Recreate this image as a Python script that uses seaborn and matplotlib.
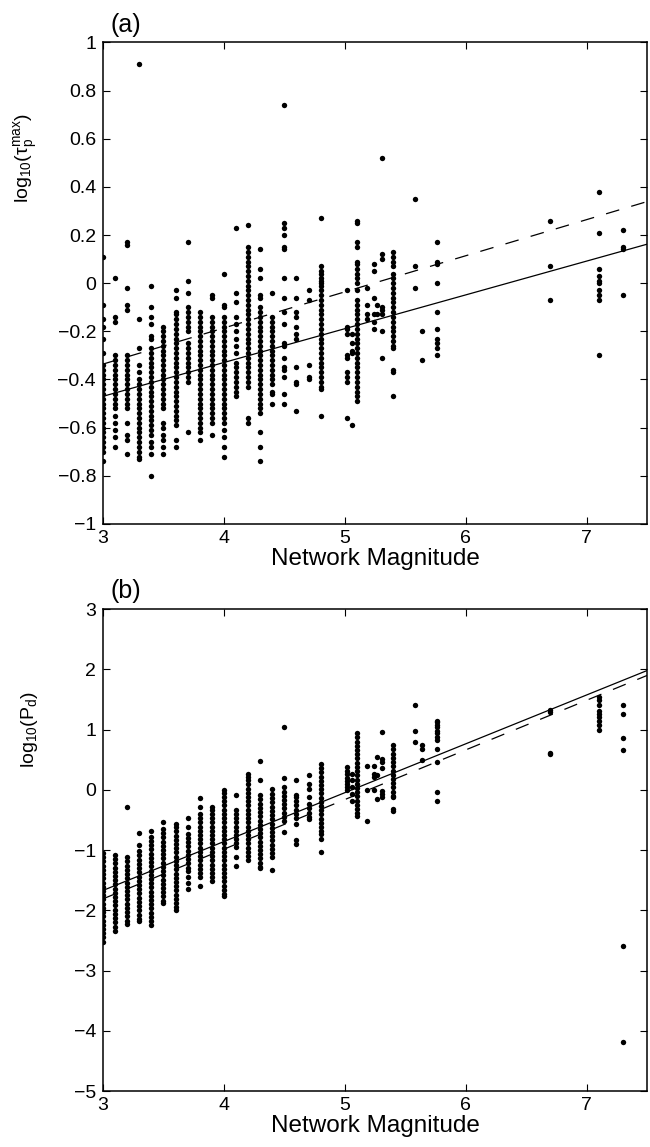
import matplotlib
matplotlib.use("Agg")
import matplotlib.pyplot as plt
import seaborn as sns
import pandas as pd

# ---------------- data ----------------
MAG_A = [3.0, 3.1, 3.2, 3.3, 3.4, 3.5, 3.6, 3.7, 3.8, 3.9, 4.0, 4.1, 4.2, 4.3, 4.4,
         4.5, 4.6, 4.7, 4.8, 5.02, 5.06, 5.1, 5.18, 5.24, 5.27, 5.31, 5.4, 5.58,
         5.64, 5.76, 6.7, 7.1, 7.3]
TAU_A = [
    [0.11, -0.09, -0.15, -0.18, -0.23, -0.29, -0.34, -0.36, -0.38, -0.40, -0.42, -0.44, -0.46, -0.48, -0.50, -0.52, -0.54, -0.56, -0.58, -0.60, -0.62, -0.64, -0.66, -0.68, -0.70, -0.74],
    [0.02, -0.14, -0.16, -0.30, -0.32, -0.34, -0.36, -0.38, -0.40, -0.42, -0.44, -0.46, -0.48, -0.50, -0.52, -0.55, -0.58, -0.61, -0.64, -0.68],
    [0.17, 0.16, -0.02, -0.09, -0.11, -0.30, -0.32, -0.34, -0.36, -0.38, -0.40, -0.42, -0.44, -0.46, -0.48, -0.50, -0.52, -0.58, -0.63, -0.65, -0.71],
    [0.91, -0.15, -0.27, -0.34, -0.37, -0.40, -0.42, -0.44, -0.46, -0.48, -0.50, -0.52, -0.54, -0.56, -0.58, -0.60, -0.62, -0.64, -0.66, -0.68, -0.70, -0.72, -0.73],
    [-0.01, -0.10, -0.14, -0.17, -0.22, -0.23, -0.27, -0.29, -0.31, -0.33, -0.35, -0.37, -0.39, -0.41, -0.43, -0.45, -0.47, -0.49, -0.51, -0.53, -0.55, -0.57, -0.59, -0.61, -0.63, -0.66, -0.68, -0.71, -0.80],
    [-0.18, -0.20, -0.22, -0.24, -0.26, -0.28, -0.30, -0.32, -0.34, -0.36, -0.38, -0.40, -0.42, -0.44, -0.46, -0.48, -0.50, -0.52, -0.58, -0.60, -0.63, -0.65, -0.68, -0.71],
    [-0.03, -0.06, -0.12, -0.13, -0.15, -0.17, -0.19, -0.21, -0.23, -0.25, -0.27, -0.29, -0.31, -0.33, -0.35, -0.37, -0.39, -0.41, -0.43, -0.45, -0.47, -0.49, -0.51, -0.53, -0.55, -0.57, -0.59, -0.65, -0.68],
    [0.17, 0.01, -0.04, -0.10, -0.12, -0.14, -0.16, -0.18, -0.20, -0.25, -0.27, -0.29, -0.31, -0.33, -0.35, -0.37, -0.39, -0.41, -0.62],
    [-0.12, -0.14, -0.16, -0.18, -0.20, -0.22, -0.24, -0.26, -0.28, -0.30, -0.32, -0.34, -0.36, -0.38, -0.40, -0.42, -0.44, -0.46, -0.48, -0.50, -0.52, -0.54, -0.56, -0.58, -0.60, -0.62, -0.65],
    [-0.05, -0.06, -0.14, -0.16, -0.18, -0.20, -0.22, -0.24, -0.26, -0.28, -0.30, -0.32, -0.34, -0.36, -0.38, -0.40, -0.42, -0.44, -0.46, -0.48, -0.50, -0.52, -0.54, -0.56, -0.58, -0.63],
    [0.04, -0.09, -0.10, -0.14, -0.16, -0.18, -0.20, -0.22, -0.24, -0.26, -0.28, -0.30, -0.32, -0.34, -0.36, -0.38, -0.40, -0.42, -0.44, -0.46, -0.48, -0.50, -0.52, -0.54, -0.56, -0.58, -0.61, -0.64, -0.68, -0.72],
    [0.23, -0.04, -0.08, -0.14, -0.17, -0.20, -0.23, -0.26, -0.29, -0.33, -0.35, -0.37, -0.39, -0.41, -0.43, -0.45, -0.47],
    [0.24, 0.15, 0.13, 0.11, 0.09, 0.07, 0.05, 0.03, 0.01, -0.01, -0.03, -0.05, -0.07, -0.09, -0.11, -0.13, -0.15, -0.17, -0.19, -0.21, -0.23, -0.25, -0.27, -0.29, -0.31, -0.33, -0.35, -0.37, -0.39, -0.41, -0.43, -0.56, -0.58],
    [0.14, 0.06, 0.02, -0.05, -0.06, -0.10, -0.12, -0.14, -0.16, -0.18, -0.20, -0.22, -0.24, -0.26, -0.28, -0.30, -0.32, -0.34, -0.36, -0.38, -0.40, -0.42, -0.44, -0.46, -0.48, -0.50, -0.52, -0.54, -0.62, -0.68, -0.74],
    [-0.04, -0.14, -0.16, -0.18, -0.20, -0.22, -0.24, -0.26, -0.28, -0.30, -0.32, -0.34, -0.36, -0.38, -0.40, -0.42, -0.45, -0.46, -0.50],
    [0.74, 0.25, 0.23, 0.20, 0.15, 0.14, 0.02, -0.06, -0.12, -0.17, -0.25, -0.26, -0.31, -0.35, -0.36, -0.39, -0.46, -0.50],
    [0.02, -0.06, -0.12, -0.14, -0.18, -0.21, -0.23, -0.35, -0.41, -0.42, -0.53],
    [-0.03, -0.07, -0.34, -0.39, -0.40],
    [0.27, 0.07, 0.05, 0.04, 0.02, 0.01, 0.00, -0.01, -0.03, -0.05, -0.07, -0.09, -0.11, -0.13, -0.15, -0.17, -0.19, -0.21, -0.23, -0.25, -0.27, -0.29, -0.31, -0.33, -0.35, -0.37, -0.39, -0.41, -0.43, -0.44, -0.55],
    [-0.03, -0.18, -0.19, -0.21, -0.30, -0.31, -0.37, -0.39, -0.41, -0.56],
    [-0.21, -0.25, -0.28, -0.29, -0.59],
    [0.26, 0.25, 0.17, 0.15, 0.09, 0.08, 0.06, 0.04, 0.02, 0.00, -0.03, -0.07, -0.09, -0.11, -0.13, -0.15, -0.17, -0.19, -0.21, -0.23, -0.25, -0.27, -0.29, -0.31, -0.33, -0.35, -0.37, -0.39, -0.41, -0.43, -0.45, -0.47, -0.49],
    [-0.02, -0.09, -0.13, -0.15],
    [0.08, 0.05, -0.06, -0.13, -0.16, -0.19],
    [-0.09, -0.13],
    [0.52, 0.12, 0.10, -0.10, -0.11, -0.13, -0.20, -0.31],
    [0.13, 0.11, 0.09, 0.07, 0.04, 0.02, 0.00, -0.02, -0.04, -0.06, -0.08, -0.10, -0.12, -0.14, -0.16, -0.18, -0.20, -0.22, -0.24, -0.26, -0.27, -0.36, -0.37, -0.47],
    [0.35, 0.07, -0.02],
    [-0.20, -0.32],
    [0.17, 0.09, 0.08, 0.00, -0.12, -0.19, -0.23, -0.25, -0.27, -0.30],
    [0.26, 0.07, -0.07],
    [0.38, 0.21, 0.06, 0.03, 0.01, 0.00, -0.03, -0.05, -0.07, -0.30],
    [0.22, 0.15, 0.14, -0.05],
]

MAG_B = MAG_A
PD_B = [
    [-1.05, -1.12, -1.19, -1.26, -1.33, -1.40, -1.47, -1.54, -1.61, -1.68, -1.75, -1.82, -1.89, -1.96, -2.03, -2.10, -2.17, -2.24, -2.31, -2.38, -2.45, -2.52],
    [-1.08, -1.15, -1.22, -1.29, -1.36, -1.43, -1.50, -1.57, -1.64, -1.71, -1.78, -1.85, -1.92, -1.99, -2.06, -2.13, -2.20, -2.27, -2.34],
    [-0.28, -1.12, -1.19, -1.26, -1.33, -1.40, -1.47, -1.54, -1.61, -1.68, -1.75, -1.82, -1.89, -1.96, -2.03, -2.10, -2.17, -2.22],
    [-0.72, -0.92, -1.02, -1.09, -1.16, -1.23, -1.30, -1.37, -1.44, -1.51, -1.58, -1.65, -1.72, -1.79, -1.86, -1.93, -2.00, -2.07, -2.14, -2.18],
    [-0.68, -0.78, -0.85, -0.92, -0.99, -1.06, -1.13, -1.20, -1.27, -1.34, -1.41, -1.48, -1.55, -1.62, -1.69, -1.76, -1.83, -1.90, -1.97, -2.04, -2.11, -2.18, -2.25],
    [-0.54, -0.65, -0.72, -0.79, -0.86, -0.93, -1.00, -1.07, -1.14, -1.21, -1.28, -1.35, -1.42, -1.49, -1.56, -1.63, -1.70, -1.77, -1.84, -1.88],
    [-0.56, -0.62, -0.69, -0.76, -0.83, -0.90, -0.97, -1.04, -1.11, -1.18, -1.25, -1.32, -1.39, -1.46, -1.53, -1.60, -1.67, -1.74, -1.81, -1.88, -1.95, -1.99],
    [-0.47, -0.62, -0.73, -0.80, -0.87, -0.94, -1.01, -1.08, -1.15, -1.22, -1.29, -1.34, -1.45, -1.55, -1.64],
    [-0.13, -0.29, -0.40, -0.47, -0.54, -0.61, -0.68, -0.75, -0.82, -0.89, -0.96, -1.03, -1.10, -1.17, -1.24, -1.31, -1.38, -1.45, -1.59],
    [-0.29, -0.34, -0.40, -0.47, -0.54, -0.61, -0.68, -0.75, -0.82, -0.89, -0.96, -1.03, -1.10, -1.17, -1.24, -1.31, -1.38, -1.45, -1.51],
    [0.00, -0.05, -0.12, -0.19, -0.26, -0.33, -0.40, -0.47, -0.54, -0.61, -0.68, -0.75, -0.82, -0.89, -0.96, -1.03, -1.10, -1.17, -1.24, -1.31, -1.38, -1.45, -1.52, -1.59, -1.66, -1.73, -1.76],
    [-0.08, -0.34, -0.40, -0.47, -0.54, -0.61, -0.68, -0.75, -0.82, -0.89, -0.95, -1.12, -1.26],
    [0.27, 0.22, 0.16, 0.09, 0.02, -0.05, -0.12, -0.19, -0.26, -0.33, -0.40, -0.47, -0.54, -0.61, -0.68, -0.75, -0.82, -0.89, -0.96, -1.03, -1.10, -1.17],
    [0.47, 0.16, -0.09, -0.16, -0.23, -0.30, -0.37, -0.44, -0.51, -0.58, -0.65, -0.72, -0.79, -0.86, -0.93, -1.00, -1.07, -1.14, -1.21, -1.28, -1.30],
    [0.02, -0.07, -0.14, -0.21, -0.28, -0.35, -0.42, -0.49, -0.56, -0.63, -0.70, -0.77, -0.84, -0.91, -0.98, -1.05, -1.12, -1.33],
    [1.05, 0.20, 0.04, -0.03, -0.10, -0.17, -0.24, -0.31, -0.38, -0.45, -0.51, -0.70],
    [0.17, -0.09, -0.12, -0.19, -0.26, -0.33, -0.40, -0.47, -0.56, -0.84, -0.90],
    [0.25, 0.10, 0.02, -0.12, -0.24, -0.31, -0.38, -0.45, -0.48],
    [0.43, 0.36, 0.29, 0.22, 0.15, 0.08, 0.01, -0.06, -0.13, -0.20, -0.27, -0.34, -0.41, -0.48, -0.55, -0.62, -0.69, -0.73, -0.81, -1.04],
    [0.38, 0.32, 0.26, 0.20, 0.14, 0.10, 0.04, -0.01],
    [0.27, 0.16, 0.04, -0.07, -0.18],
    [0.94, 0.87, 0.80, 0.73, 0.66, 0.59, 0.52, 0.45, 0.38, 0.31, 0.24, 0.17, 0.10, 0.03, -0.04, -0.11, -0.18, -0.25, -0.32, -0.39, -0.43],
    [0.39, 0.00, -0.51],
    [0.40, 0.27, 0.21, -0.01],
    [0.54, 0.24, -0.15],
    [0.96, 0.51, 0.46, 0.37, -0.02, -0.07, -0.12],
    [0.74, 0.67, 0.60, 0.53, 0.46, 0.39, 0.32, 0.25, 0.18, 0.11, 0.04, -0.03, -0.10, -0.12, -0.32, -0.36],
    [1.40, 0.97, 0.79],
    [0.74, 0.68, 0.49],
    [1.15, 1.12, 1.08, 1.04, 0.98, 0.94, 0.87, 0.82, 0.68, 0.46, -0.04, -0.19],
    [1.33, 1.29, 0.61, 0.59],
    [1.54, 1.49, 1.40, 1.31, 1.26, 1.21, 1.15, 1.07, 1.00],
    [1.40, 1.26, 0.86, 0.66, -2.59, -4.18],
]

# regression lines: (slope, intercept)
FIT_A_SOLID = (0.1404, -0.891)
FIT_A_DASHED = (0.150, -0.786)
FIT_B_SOLID = (0.811, -4.103)
FIT_B_DASHED = (0.824, -4.282)

X_RANGE = (3.0, 7.5)
X_TICKS = [3, 4, 5, 6, 7]
Y_TICKS_A = [-1, -0.8, -0.6, -0.4, -0.2, 0, 0.2, 0.4, 0.6, 0.8, 1]
Y_TICKS_B = [-5, -4, -3, -2, -1, 0, 1, 2, 3]


def long_form(mags, groups, name):
    rows = []
    for m, vals in zip(mags, groups):
        for v in vals:
            rows.append((m, v))
    return pd.DataFrame(rows, columns=["mag", name])


df_a = long_form(MAG_A, TAU_A, "tau")
df_b = long_form(MAG_B, PD_B, "pd")

sns.set_theme(style="ticks")
plt.rcParams["font.family"] = ["Liberation Sans", "DejaVu Sans"]
plt.rcParams["mathtext.fontset"] = "custom"
plt.rcParams["mathtext.rm"] = "Liberation Sans"
plt.rcParams["mathtext.it"] = "Liberation Sans:italic"
plt.rcParams["axes.unicode_minus"] = True

fig = plt.figure(figsize=(6.5, 11.47), dpi=100)
ax_a = fig.add_axes([0.1585, 0.5432, 0.8370, 0.4198])
ax_b = fig.add_axes([0.1585, 0.0488, 0.8370, 0.4202])


def fit_line(ax, fit, style):
    xs = list(X_RANGE)
    ys = [fit[0] * x + fit[1] for x in xs]
    if style == "solid":
        ax.plot(xs, ys, color="black", lw=0.9, solid_capstyle="butt")
    else:
        ax.plot(xs, ys, color="black", lw=0.9, dashes=(11, 10))


def style_axes(ax, yticks, ylim, panel, ylabel, label_y):
    ax.set_xlim(*X_RANGE)
    ax.set_ylim(*ylim)
    ax.set_xticks(X_TICKS)
    ax.set_xticklabels([str(t) for t in X_TICKS])
    ax.set_yticks(yticks)
    ax.set_yticklabels([("%g" % t).replace("-", "\u2212") for t in yticks])
    ax.tick_params(direction="in", length=5, width=0.8, top=True, right=True,
                   labelsize=14, colors="black", pad=5)
    ax.tick_params(axis="x", pad=4)
    for s in ax.spines.values():
        s.set_visible(True)
        s.set_linewidth(1.1)
        s.set_color("black")
    ax.set_facecolor("white")
    ax.grid(False)
    ax.set_xlabel("Network Magnitude", fontsize=17.5, labelpad=1, color="black")
    ax.set_ylabel(ylabel, fontsize=14, color="black")
    ax.yaxis.set_label_coords(-0.115, label_y)
    ax.text(0.013, 1.012, panel, transform=ax.transAxes, fontsize=18,
            ha="left", va="bottom", color="black")


sns.scatterplot(data=df_a, x="mag", y="tau", ax=ax_a, color="black", s=15,
                linewidth=0, legend=False)
fit_line(ax_a, FIT_A_SOLID, "solid")
fit_line(ax_a, FIT_A_DASHED, "dashed")
style_axes(ax_a, Y_TICKS_A, (-1, 1), "(a)",
           r"$\mathregular{log_{10}(\tau_p^{max})}$", 0.76)

sns.scatterplot(data=df_b, x="mag", y="pd", ax=ax_b, color="black", s=15,
                linewidth=0, legend=False)
fit_line(ax_b, FIT_B_SOLID, "solid")
fit_line(ax_b, FIT_B_DASHED, "dashed")
style_axes(ax_b, Y_TICKS_B, (-5, 3), "(b)", r"$\mathregular{log_{10}(P_d)}$",
           0.75)

fig.savefig("out.png", dpi=100, facecolor="white")
